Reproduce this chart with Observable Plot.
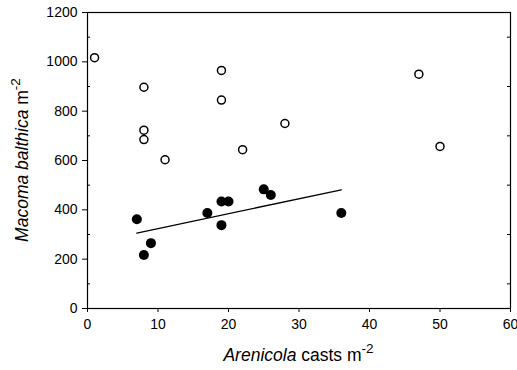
<!DOCTYPE html>
<html>
<head>
<meta charset="utf-8">
<script src="https://cdn.jsdelivr.net/npm/d3@7"></script>
<script src="https://cdn.jsdelivr.net/npm/@observablehq/plot@0.6"></script>
<style>
  html, body { margin: 0; padding: 0; background: #fff; }
  #chart svg { display: block; }
</style>
</head>
<body>
<div id="chart"></div>
<script>
// Open circles (upper group)
const openX = [1, 8, 8, 8, 11, 19, 19, 22, 28, 47, 50];
const openY = [1017, 897, 723, 685, 603, 965, 845, 644, 750, 950, 657];
// Filled circles (lower group)
const filledX = [7, 8, 9, 17, 19, 20, 19, 25, 26, 36];
const filledY = [362, 217, 265, 387, 434, 434, 338, 483, 460, 387];
// Regression line endpoints
const lineX = [7, 36];
const lineY = [306, 481];
// Ticks
const xTicks = [0, 10, 20, 30, 40, 50, 60];
const yTicks = [0, 200, 400, 600, 800, 1000, 1200];
const yMinor = [100, 300, 500, 700, 900, 1100];

const openData = openX.map((x, i) => ({x, y: openY[i]}));
const filledData = filledX.map((x, i) => ({x, y: filledY[i]}));
const lineData = lineX.map((x, i) => ({x, y: lineY[i]}));

const W = 517, H = 370, mL = 87, mR = 7, mT = 12, mB = 62;
const font = "'Liberation Sans', Arial, Helvetica, sans-serif";
const fmt = d3.format("d");

const chart = Plot.plot({
  width: W, height: H,
  marginLeft: mL, marginRight: mR, marginTop: mT, marginBottom: mB,
  style: {fontFamily: font, fontSize: "14px", color: "#000", background: "#fff"},
  x: {domain: [0, 60]},
  y: {domain: [0, 1200]},
  marks: [
    Plot.axisX({ticks: xTicks, tickSize: 4, tickPadding: 7, tickFormat: fmt, label: null, fontSize: 14}),
    Plot.axisY({ticks: yTicks, tickSize: 5, tickPadding: 5, tickFormat: fmt, label: null, fontSize: 14}),
    Plot.tickY(yMinor, {y: d => d, insetRight: W - mL - mR - 3, stroke: "#000"}),
    Plot.tickY(yMinor, {y: d => d, insetLeft: W - mL - mR - 3, stroke: "#000"}),
    Plot.frame({stroke: "#000", strokeWidth: 1.2}),
    Plot.line(lineData, {x: "x", y: "y", stroke: "#000", strokeWidth: 1.3}),
    Plot.dot(openData, {x: "x", y: "y", r: 4, fill: "#fff", stroke: "#000", strokeWidth: 1.5}),
    Plot.dot(filledData, {x: "x", y: "y", r: 5, fill: "#000", stroke: "none"})
  ]
});

document.getElementById("chart").appendChild(chart);

const svg = d3.select(chart);
// X axis title
const xt = svg.append("text")
  .attr("x", (mL + W - mR) / 2)
  .attr("y", 361)
  .attr("text-anchor", "middle")
  .attr("font-family", font)
  .attr("font-size", 17.5)
  .attr("fill", "#000");
xt.append("tspan").attr("font-style", "italic").text("Arenicola");
xt.append("tspan").text(" casts m");
xt.append("tspan").attr("font-size", 13.5).attr("dy", -8).text("-2");

// Y axis title
const yt = svg.append("text")
  .attr("transform", `translate(28, ${(mT + H - mB) / 2}) rotate(-90)`)
  .attr("text-anchor", "middle")
  .attr("font-family", font)
  .attr("font-size", 17.5)
  .attr("fill", "#000");
yt.append("tspan").attr("font-style", "italic").text("Macoma balthica");
yt.append("tspan").text(" m");
yt.append("tspan").attr("font-size", 13.5).attr("dy", -8).text("-2");
</script>
</body>
</html>
